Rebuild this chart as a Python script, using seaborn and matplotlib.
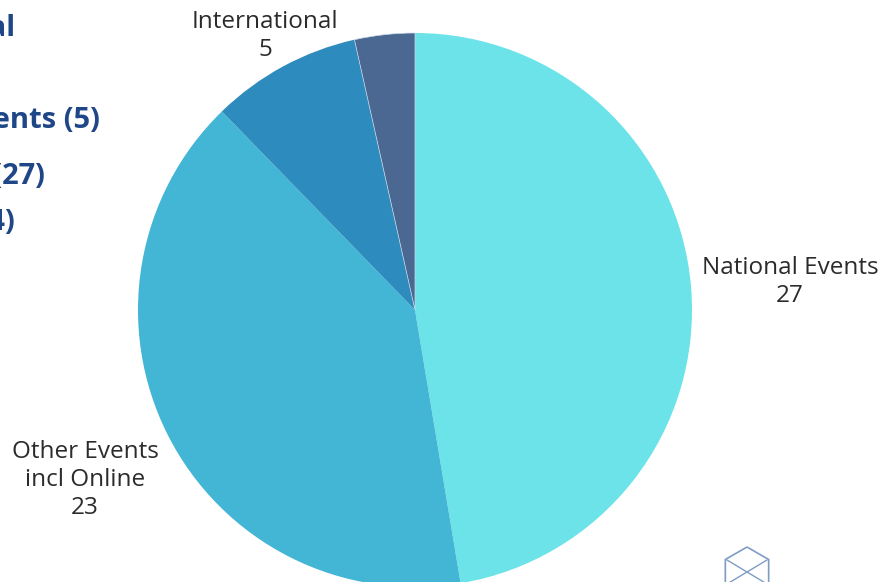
import matplotlib
matplotlib.use("Agg")
import matplotlib.pyplot as plt
from matplotlib.patches import RegularPolygon
import seaborn as sns

# slices, clockwise from 12 o'clock
slice_names = ["National Events", "Other Events incl Online", "International", "Other"]
slice_values = [27, 23, 5, 2]
slice_colors = ["#6be3e8", "#43b6d6", "#2e8bbd", "#4a6891"]

# labels printed next to the slices
label_texts = ["National Events\n27", "Other Events\nincl Online\n23", "International\n5"]

# summary text that runs off the left edge
legend_lines = ["Total", "International Events (5)", "National Events (27)", "Other Events (24)"]

sns.set_theme(style="white")
plt.rcParams["font.family"] = ["Open Sans", "DejaVu Sans"]

W, H = 884, 582
fig = plt.figure(figsize=(W / 100, H / 100), dpi=100)
ax = fig.add_axes([0, 0, 1, 1])

cx, cy, r = 415, H - 310, 277
wedges, _ = ax.pie(slice_values, colors=slice_colors, startangle=90,
                   counterclock=False, center=(cx, cy), radius=r,
                   wedgeprops=dict(linewidth=0))
# faint seam between the two darkest slices
wedges[3].set_edgecolor("#c9d8ea")
wedges[3].set_linewidth(0.5)
ax.set_xlim(0, W)
ax.set_ylim(0, H)
ax.set_aspect("equal")
ax.axis("off")

# slice labels
label_pos = [(790, H - 282), (85, H - 480), (265, H - 36)]
for txt, (x, y) in zip(label_texts, label_pos):
    ax.text(x, y, txt, ha="center", va="center", fontsize=17.5,
            color="#2b2b2b", linespacing=1.22)

# left summary text (mostly outside the figure)
legend_pos = [(16, H - 28), (100, H - 120), (45, H - 177), (15, H - 223)]
for txt, (x, y) in zip(legend_lines, legend_pos):
    ax.text(x, y, txt, ha="right", va="center", fontsize=21,
            fontweight="bold", color="#1f4788")

# small logo mark, bottom right
hexagon = RegularPolygon((747, H - 572), numVertices=6, radius=25,
                         fill=False, edgecolor="#7f9cc4", linewidth=1.2)
ax.add_patch(hexagon)
ax.plot([727, 767], [H - 560, H - 584], color="#7f9cc4", lw=1)
ax.plot([727, 767], [H - 584, H - 560], color="#7f9cc4", lw=1)

fig.savefig("out.png", dpi=100, facecolor="white")
